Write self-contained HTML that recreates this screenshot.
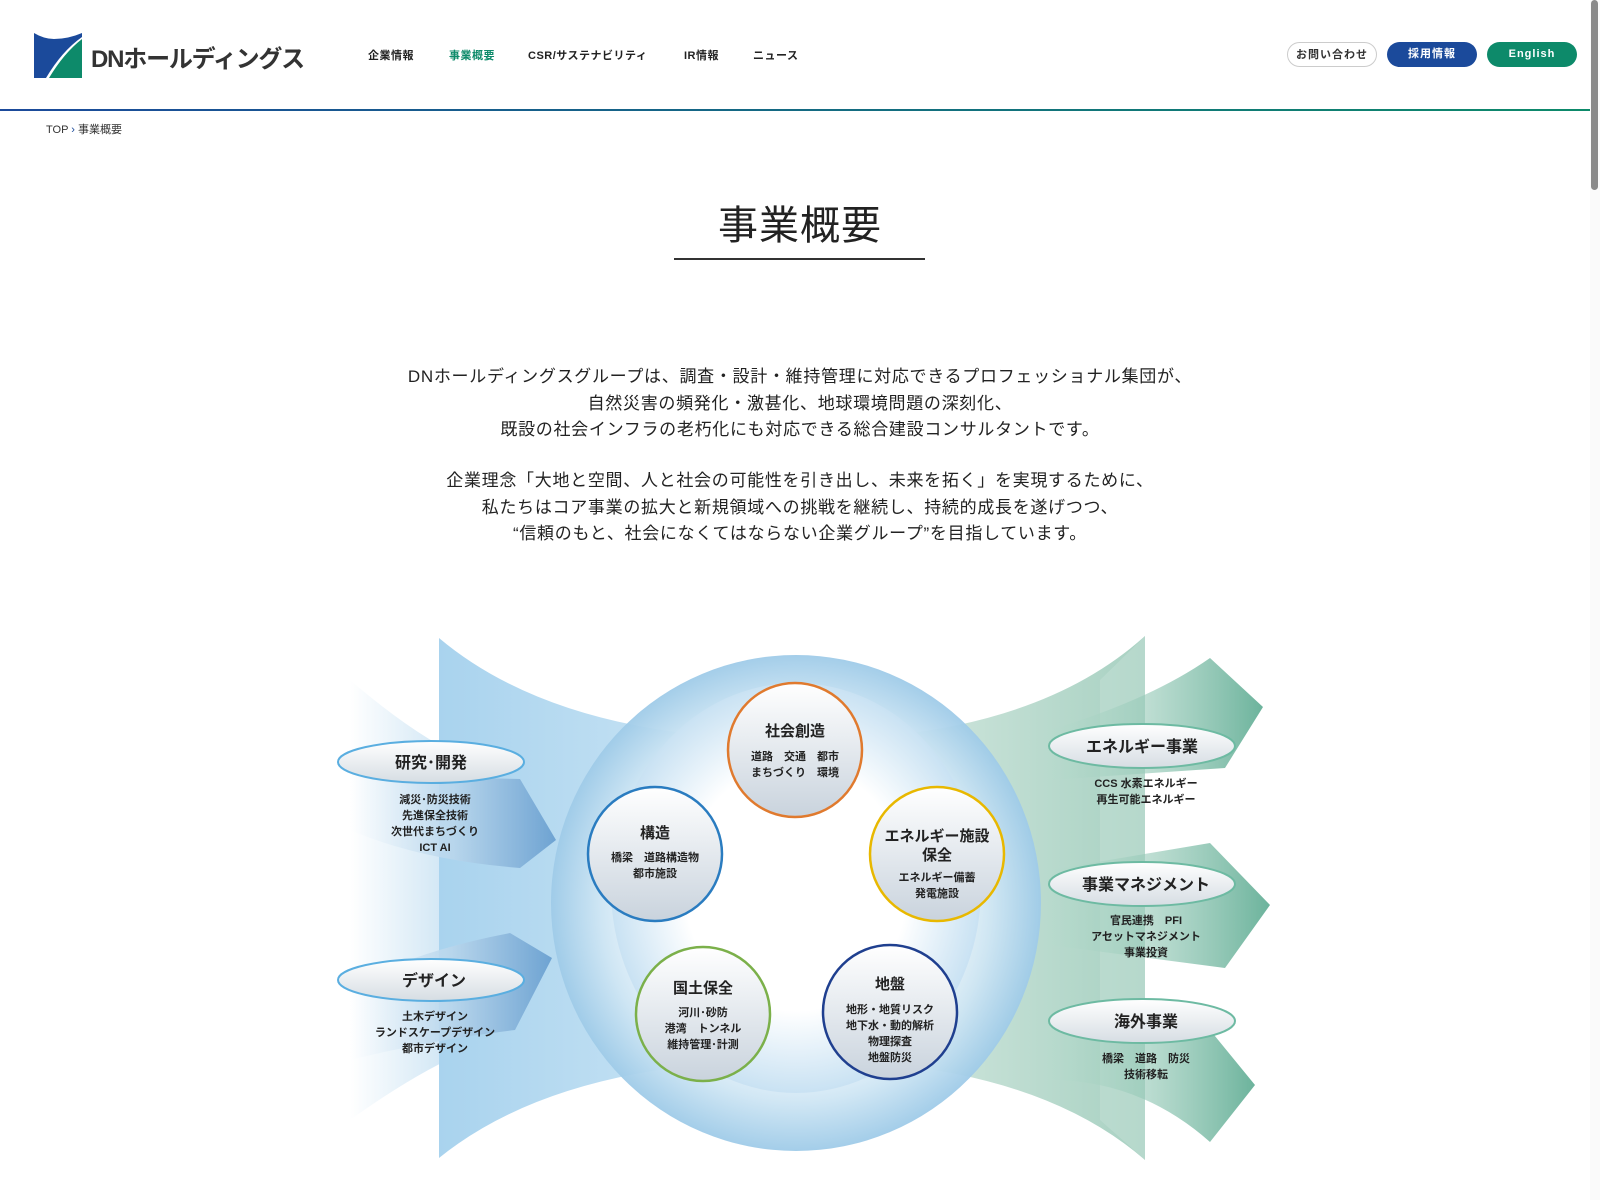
<!DOCTYPE html>
<html><head><meta charset="utf-8">
<style>
*{margin:0;padding:0;box-sizing:border-box}
body{width:1600px;height:1200px;overflow:hidden;background:#fff;font-family:"Liberation Sans","Noto Sans CJK JP",sans-serif;color:#222;position:relative}
.abs{position:absolute}
.nav{top:47px;font-size:11px;font-weight:bold;color:#222;letter-spacing:.5px}
.btn{top:42px;height:25px;width:90px;border-radius:13px;font-size:11px;font-weight:bold;text-align:center;line-height:25px;letter-spacing:1px}
.p{left:0;width:1600px;text-align:center;font-size:17px;line-height:26.7px;letter-spacing:.7px;color:#222}
</style></head><body>
<svg class="abs" style="left:34px;top:33px" width="48" height="45" viewBox="0 0 48 45">
<path d="M0,0 Q10,6 20,6 Q34,6 48,0 L48,4 Q28,18 12,45 L0,45 Z" fill="#1b4a9b"/>
<path d="M48,45 L48,6 Q30,20 15,45 Z" fill="#0d8a6a"/>
</svg>
<div class="abs" style="left:91px;top:39px;font-size:24px;font-weight:bold;color:#333;letter-spacing:-1.2px">DNホールディングス</div>
<div class="abs nav" style="left:368px">企業情報</div>
<div class="abs nav" style="left:449px;color:#0d8a6a">事業概要</div>
<div class="abs nav" style="left:528px">CSR/サステナビリティ</div>
<div class="abs nav" style="left:684px">IR情報</div>
<div class="abs nav" style="left:753px">ニュース</div>
<div class="abs btn" style="left:1287px;border:1px solid #ccc;color:#333;background:#fff">お問い合わせ</div>
<div class="abs btn" style="left:1387px;background:#1b4a9b;color:#fff">採用情報</div>
<div class="abs btn" style="left:1487px;background:#0d8a6a;color:#fff">English</div>
<div class="abs" style="left:0;top:109px;width:1590px;height:2px;background:linear-gradient(90deg,#1b4a9b,#0d8a6a)"></div>
<div class="abs" style="left:1590px;top:0;width:10px;height:1200px;background:#fafafa"></div>
<div class="abs" style="left:1591px;top:0;width:7px;height:190px;background:#8a8a8a;border-radius:4px"></div>
<div class="abs" style="left:46px;top:121px;font-size:11px;color:#333">TOP <span style="color:#1b4a9b">›</span> 事業概要</div>
<div class="abs" style="left:0;width:1600px;top:193px;text-align:center;font-size:40px;color:#222;letter-spacing:1px">事業概要</div>
<div class="abs" style="left:674px;top:258px;width:251px;height:2px;background:#333"></div>
<div class="abs p" style="top:364px">DNホールディングスグループは、調査・設計・維持管理に対応できるプロフェッショナル集団が、<br>自然災害の頻発化・激甚化、地球環境問題の深刻化、<br>既設の社会インフラの老朽化にも対応できる総合建設コンサルタントです。</div>
<div class="abs p" style="top:468px">企業理念「大地と空間、人と社会の可能性を引き出し、未来を拓く」を実現するために、<br>私たちはコア事業の拡大と新規領域への挑戦を継続し、持続的成長を遂げつつ、<br>“信頼のもと、社会になくてはならない企業グループ”を目指しています。</div>

<svg class="abs" style="left:0;top:0" width="1600" height="1200" viewBox="0 0 1600 1200" font-family="Liberation Sans, Noto Sans CJK JP, sans-serif" font-weight="bold" text-anchor="middle">
<defs>
<linearGradient id="lb" x1="0" x2="1"><stop offset="0" stop-color="#a9d3ee"/><stop offset="1" stop-color="#d3e9f6"/></linearGradient>
<linearGradient id="lf" x1="0" x2="1"><stop offset="0" stop-color="#fff"/><stop offset="1" stop-color="#c5e0f2"/></linearGradient>
<linearGradient id="la" x1="0" x2="1"><stop offset="0" stop-color="#e8f2fa" stop-opacity="0"/><stop offset=".5" stop-color="#b8d6ec"/><stop offset="1" stop-color="#6ea3d2"/></linearGradient>
<linearGradient id="rb" x1="0" x2="1"><stop offset="0" stop-color="#e3f0ea"/><stop offset="1" stop-color="#a8d1c2"/></linearGradient>
<linearGradient id="ra" x1="0" x2="1"><stop offset="0" stop-color="#b7dbcd" stop-opacity=".3"/><stop offset="1" stop-color="#6cb39c"/></linearGradient>
<radialGradient id="big" cx=".5" cy=".5" r=".5"><stop offset=".55" stop-color="#fff"/><stop offset=".8" stop-color="#cfe6f4"/><stop offset="1" stop-color="#9fcbe8"/></radialGradient>
<radialGradient id="inn" cx=".5" cy=".5" r=".5"><stop offset=".6" stop-color="#fff"/><stop offset="1" stop-color="#c9e2f3"/></radialGradient>
<linearGradient id="ball" x1="0" y1="0" x2="0" y2="1"><stop offset="0" stop-color="#fff"/><stop offset="1" stop-color="#c9d3dd"/></linearGradient>
<linearGradient id="ell" x1="0" y1="0" x2="0" y2="1"><stop offset="0" stop-color="#fff"/><stop offset="1" stop-color="#d6dde3"/></linearGradient>
</defs>
<path d="M350,680 Q420,740 470,760 L470,1050 Q420,1070 350,1120 Z" fill="url(#lf)"/>
<path d="M439,638 Q560,740 800,740 L800,1060 Q560,1060 439,1158 Z" fill="url(#lb)"/>
<path d="M1145,636 Q1030,740 800,740 L800,1060 Q1030,1060 1145,1160 Z" fill="url(#rb)"/>
<path d="M1145,636 L1145,1160 L1100,1120 L1100,680 Z" fill="#c4e0d5" opacity=".5"/>
<ellipse cx="796" cy="903" rx="245" ry="248" fill="url(#big)" opacity=".95"/>
<ellipse cx="796" cy="888" rx="185" ry="205" fill="url(#inn)"/>
<path d="M350,775 L520,779 L556,840 L520,868 Q420,860 350,830 Z" fill="url(#la)"/>
<path d="M350,985 Q420,950 510,933 L552,958 L515,1030 Q430,1040 350,1060 Z" fill="url(#la)"/>
<path d="M1050,730 Q1150,700 1210,658 L1263,707 L1225,768 L1050,780 Z" fill="url(#ra)"/>
<path d="M1050,870 L1210,843 L1270,905 L1225,968 L1050,945 Z" fill="url(#ra)"/>
<path d="M1050,1020 L1210,1030 L1255,1085 L1210,1142 Q1140,1080 1050,1080 Z" fill="url(#ra)"/>
<ellipse cx="431" cy="762" rx="93" ry="21" fill="url(#ell)" stroke="#5aaee0" stroke-width="2"/>
<text x="431" y="768" font-size="16" fill="#222">研究･開発</text>
<g font-size="11" fill="#222"><text x="435" y="803">減災･防災技術</text><text x="435" y="819">先進保全技術</text><text x="435" y="835">次世代まちづくり</text><text x="435" y="851">ICT AI</text></g>
<ellipse cx="431" cy="980" rx="93" ry="21" fill="url(#ell)" stroke="#5aaee0" stroke-width="2"/>
<text x="434" y="986" font-size="16" fill="#222">デザイン</text>
<g font-size="11" fill="#222"><text x="435" y="1020">土木デザイン</text><text x="435" y="1036">ランドスケープデザイン</text><text x="435" y="1052">都市デザイン</text></g>
<g fill="url(#ell)" stroke="#6dbaa2" stroke-width="2">
<ellipse cx="1142" cy="746" rx="93" ry="22"/><ellipse cx="1142" cy="884" rx="93" ry="22"/><ellipse cx="1142" cy="1021" rx="93" ry="22"/></g>
<g font-size="16" fill="#222"><text x="1142" y="752">エネルギー事業</text><text x="1146" y="890">事業マネジメント</text><text x="1146" y="1027">海外事業</text></g>
<g font-size="11" fill="#222"><text x="1146" y="787">CCS 水素エネルギー</text><text x="1146" y="803">再生可能エネルギー</text>
<text x="1146" y="924">官民連携　PFI</text><text x="1146" y="940">アセットマネジメント</text><text x="1146" y="956">事業投資</text>
<text x="1146" y="1062">橋梁　道路　防災</text><text x="1146" y="1078">技術移転</text></g>
<g fill="url(#ball)" stroke-width="2.5">
<circle cx="795" cy="750" r="67" stroke="#e07a2e"/>
<circle cx="655" cy="854" r="67" stroke="#2a7cc0"/>
<circle cx="937" cy="854" r="67" stroke="#e8b800"/>
<circle cx="703" cy="1014" r="67" stroke="#7bb04a"/>
<circle cx="890" cy="1012" r="67" stroke="#1f3f8f"/>
</g>
<g font-size="15" fill="#222">
<text x="795" y="736">社会創造</text><text x="655" y="838">構造</text><text x="937" y="841">エネルギー施設</text><text x="937" y="860">保全</text><text x="703" y="993">国土保全</text><text x="890" y="989">地盤</text></g>
<g font-size="11" fill="#222">
<text x="795" y="760">道路　交通　都市</text><text x="795" y="776">まちづくり　環境</text>
<text x="655" y="861">橋梁　道路構造物</text><text x="655" y="877">都市施設</text>
<text x="937" y="881">エネルギー備蓄</text><text x="937" y="897">発電施設</text>
<text x="703" y="1016">河川･砂防</text><text x="703" y="1032">港湾　トンネル</text><text x="703" y="1048">維持管理･計測</text>
<text x="890" y="1013">地形・地質リスク</text><text x="890" y="1029">地下水・動的解析</text><text x="890" y="1045">物理探査</text><text x="890" y="1061">地盤防災</text></g>
</svg>
</body></html>
